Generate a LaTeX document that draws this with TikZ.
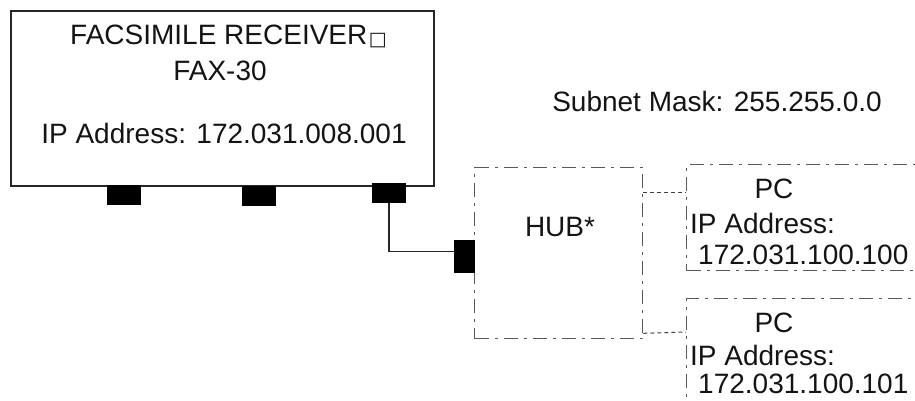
\documentclass[tikz,border=0pt]{standalone}
\usepackage{fontspec}
\setmainfont{Liberation Sans}
\newfontfamily\symfont{DejaVu Sans}
\usetikzlibrary{positioning}

\tikzset{
  txt/.style={anchor=base,inner sep=0pt,text=black!92,font=\fontsize{28}{34}\selectfont},
  port/.style={fill=black,draw=none,inner sep=0pt,outer sep=0pt,anchor=north west},
  frame/.style={draw=black!85,line width=1.5pt,inner sep=0pt,anchor=north west},
  dashdot/.style={draw=black!65,line width=1.3pt,inner sep=0pt,anchor=north west,
    dash pattern=on 14pt off 6pt on 3pt off 6pt},
  link/.style={draw=black!75,line width=1pt,dash pattern=on 4pt off 3pt},
}

\begin{document}
\begin{tikzpicture}[x=1pt,y=-1pt]
\useasboundingbox (0,0) rectangle (915,400);
\clip (0,0) rectangle (915,400);
% facsimile receiver
\node (fax)[frame,minimum width=423pt,minimum height=175pt] at (10,10) {};
\node (title)[txt,anchor=base west] at (70,44) {FACSIMILE RECEIVER};
\node (sq)[txt,anchor=base west,font=\symfont\fontsize{19}{19}\selectfont] at ([xshift=1pt,yshift=-1pt]title.base east) {□};
\node (model)[txt] at (220,80) {FAX-30};
\node (faxip)[txt] at (224,143) {IP Address: 172.031.008.001};
\foreach \x/\y[count=\i] in {107/185,242/186,372/183}
  \node (p\i)[port,minimum width=34pt,minimum height=20pt] at (\x,\y) {};
% hub
\node (hub)[dashdot,minimum width=168pt,minimum height=171pt] at (474,167) {};
\node (hubport)[port,minimum width=21pt,minimum height=33pt] at (454,240) {};
\node (hubname)[txt] at (560,236) {HUB*};
\draw[black!85,line width=1.2pt] (p3.south) |- ([yshift=5pt]hubport.west);
% subnet
\node (mask)[txt] at (717,111) {Subnet Mask: 255.255.0.0};
% pcs
\node (pc1)[dashdot,minimum width=260pt,minimum height=106pt] at (686,164) {};
\node (pc2)[dashdot,minimum width=260pt,minimum height=130pt] at (686,298) {};
\node (pc1name)[txt] at (774,198) {PC};
\node (pc1ip)[txt,anchor=base west] at (690,233) {IP Address:};
\node (pc1num)[txt,anchor=base west] at (698,264) {172.031.100.100};
\node (pc2name)[txt] at (774,332) {PC};
\node (pc2ip)[txt,anchor=base west] at (690,365) {IP Address:};
\node (pc2num)[txt,anchor=base west] at (698,393) {172.031.100.101};
\draw[link] ([yshift=-25pt]hub.north east) -- ([yshift=-28pt]pc1.north west);
\draw[link] ([yshift=6pt]hub.south east) -- ([yshift=-34pt]pc2.north west);
\end{tikzpicture}
\end{document}
